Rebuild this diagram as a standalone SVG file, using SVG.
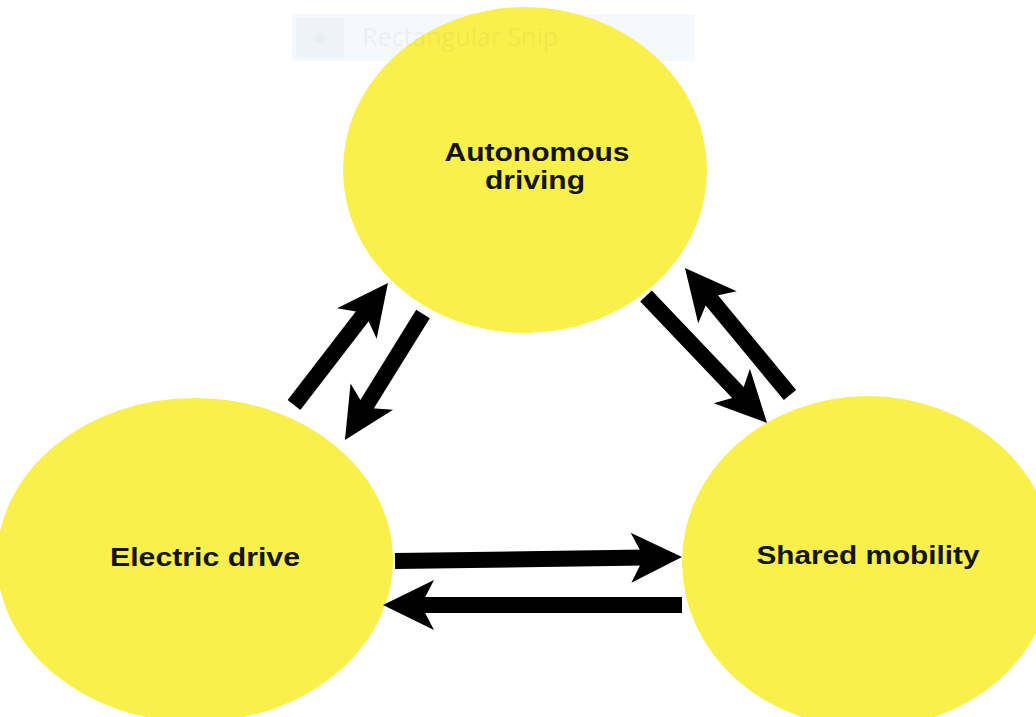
<svg xmlns="http://www.w3.org/2000/svg" width="1036" height="717" viewBox="0 0 1036 717">
  <style>
    .node { fill: #f9f04b; }
    .label { font-family: "Liberation Sans", Arial, sans-serif; font-weight: bold; font-size: 25px; fill: #141414; text-anchor: middle; }
    .link { stroke: #000; stroke-width: 16; fill: none; marker-end: url(#head); }
    .snip-text { font-family: "Open Sans", "Liberation Sans", sans-serif; font-size: 25px; fill: #5a6a80; fill-opacity: 0.07; }
  </style>
  <defs>
    <!-- swept-back arrowhead, tip sits 36px beyond the shaft end -->
    <marker id="head" markerUnits="userSpaceOnUse" viewBox="-20 -30 80 60" refX="0" refY="0" markerWidth="80" markerHeight="60" orient="auto" overflow="visible">
      <path d="M36,0 L-15,-25 L-2,0 L-15,25 Z" fill="#000"/>
    </marker>
  </defs>

  <rect width="1036" height="717" fill="#ffffff"/>

  <!-- faint screen-capture toolbar -->
  <rect x="292" y="14" width="403" height="47" fill="#f5f8fc"/>
  <rect x="296" y="18" width="48" height="40" fill="#eff3f9"/>
  <circle cx="320" cy="38" r="5" fill="#e8edf3"/>

  <g id="node-autonomous">
    <ellipse class="node" cx="525" cy="170" rx="182" ry="163"/>
    <text class="label" x="537" y="161" textLength="185" lengthAdjust="spacingAndGlyphs">Autonomous</text>
    <text class="label" x="535" y="189" textLength="100" lengthAdjust="spacingAndGlyphs">driving</text>
  </g>

  <g id="node-electric">
    <ellipse class="node" cx="195" cy="560" rx="198" ry="162"/>
    <text class="label" x="205" y="566" textLength="190" lengthAdjust="spacingAndGlyphs">Electric drive</text>
  </g>

  <g id="node-shared">
    <ellipse class="node" cx="868" cy="562" rx="186" ry="166"/>
    <text class="label" x="868" y="564" textLength="223" lengthAdjust="spacingAndGlyphs">Shared mobility</text>
  </g>

  <text class="snip-text" x="362" y="46">Rectangular Snip</text>

  <g id="connectors">
    <!-- Electric drive -> Autonomous driving -->
    <line class="link" x1="294" y1="405" x2="366.0" y2="311.5"/>
    <!-- Autonomous driving -> Electric drive -->
    <line class="link" x1="423" y1="314" x2="363.9" y2="409.4"/>
    <!-- Autonomous driving -> Shared mobility -->
    <line class="link" x1="646" y1="296" x2="742.2" y2="396.9"/>
    <!-- Shared mobility -> Autonomous driving -->
    <line class="link" x1="790" y1="395" x2="707.9" y2="295.7"/>
    <!-- Electric drive -> Shared mobility -->
    <line class="link" x1="395" y1="561" x2="646" y2="557.5"/>
    <!-- Shared mobility -> Electric drive -->
    <line class="link" x1="682" y1="605" x2="419" y2="605"/>
  </g>
</svg>
